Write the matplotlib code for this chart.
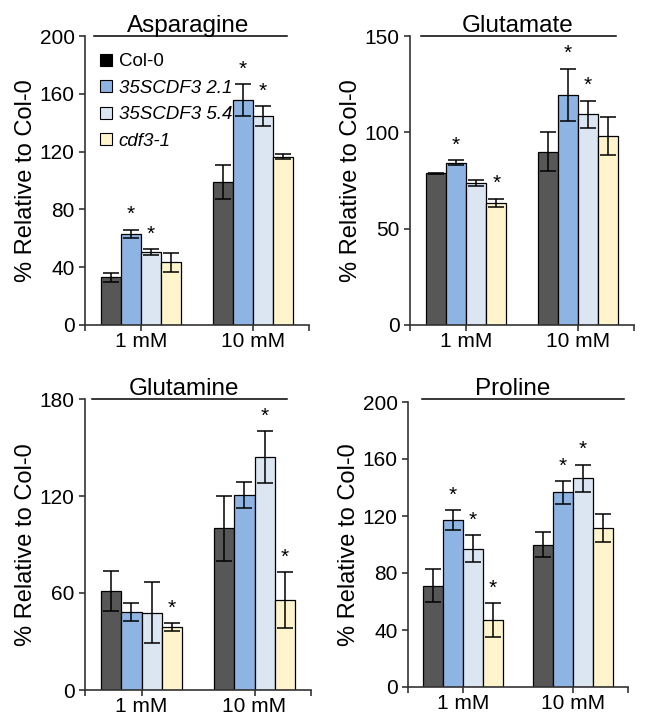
import numpy as np
import matplotlib.pyplot as plt
from matplotlib.lines import Line2D

plt.rcParams['font.family'] = ['Liberation Sans', 'DejaVu Sans']

# ---- data ----
groups = ['1 mM', '10 mM']
genotypes = ['Col-0', '35SCDF3 2.1', '35SCDF3 5.4', 'cdf3-1']
colors = ['#575757', '#8db4e2', '#dce6f2', '#fff4cc']

# each row = one genotype, columns = 1 mM, 10 mM
asn_mean = [[33, 99], [63, 155.5], [50.5, 144.5], [43.5, 116.5]]
asn_err = [[3, 12], [3, 11], [1.8, 7], [6.5, 1.5]]
asn_star = [[False, False], [True, True], [True, True], [False, False]]

glu_mean = [[78.7, 90], [84.2, 119.5], [73.8, 109.5], [63.5, 98]]
glu_err = [[0.4, 10.2], [1.2, 13.6], [1.5, 7], [2, 10]]
glu_star = [[False, False], [True, True], [False, True], [True, False]]

gln_mean = [[61, 100], [48.3, 120.6], [47.8, 144], [39, 55.7]]
gln_err = [[12.4, 20], [5.6, 8], [19, 16], [2.4, 17.3]]
gln_star = [[False, False], [False, False], [False, True], [True, True]]

pro_mean = [[71, 100], [117, 136.5], [97, 146.5], [47, 111.5]]
pro_err = [[11.7, 8.7], [7, 8], [9.4, 9.5], [11.7, 10]]
pro_star = [[False, False], [True, True], [True, True], [True, False]]

panels = [
    ('Asparagine', asn_mean, asn_err, asn_star, [0, 40, 80, 120, 160, 200]),
    ('Glutamate', glu_mean, glu_err, glu_star, [0, 50, 100, 150]),
    ('Glutamine', gln_mean, gln_err, gln_star, [0, 60, 120, 180]),
    ('Proline', pro_mean, pro_err, pro_star, [0, 40, 80, 120, 160, 200]),
]

# axes boxes in pixels: left, right, top, bottom ; title line span (axes frac) ; title x
W, H = 650, 726
boxes = [(85, 309, 36, 325), (410, 634, 36, 325), (85, 311, 399, 690), (408, 628, 402, 687)]
lines = [(0.04, 0.90), (0.05, 0.92), (0.03, 0.895), (0.064, 0.98)]
line_y = [1.0, 1.0, 1.0, 1.01]
title_x = [0.462, 0.48, 0.44, 0.478]

fig = plt.figure(figsize=(W / 100, H / 100), dpi=100)

width = 0.18
offsets = (np.arange(4) - 1.5) * width
x = np.arange(len(groups))

for k, (name, mean, err, star, yt) in enumerate(panels):
    l, r, t, b = boxes[k]
    ax = fig.add_axes([l / W, 1 - b / H, (r - l) / W, (b - t) / H])
    mean = np.array(mean)
    err = np.array(err)
    for i in range(4):
        ax.bar(x + offsets[i], mean[i], width, color=colors[i], edgecolor='black',
               linewidth=0.9, zorder=2)
        ax.errorbar(x + offsets[i], mean[i], yerr=err[i], fmt='none', ecolor='black',
                    elinewidth=1.1, capsize=6, capthick=1.1, zorder=3)
        for j in range(len(groups)):
            if star[i][j]:
                ax.annotate('*', (x[j] + offsets[i], mean[i][j] + err[i][j]),
                            xytext=(0, 4), textcoords='offset points',
                            ha='center', va='bottom', fontsize=15)
    ax.set_xlim(-0.5, 1.5)
    ax.set_ylim(yt[0], yt[-1])
    ax.set_yticks(yt)
    ax.set_xticks(x)
    ax.set_xticklabels(groups)
    ax.set_xticks([-0.5, 1.5], minor=True)
    for s in ['top', 'right']:
        ax.spines[s].set_visible(False)
    for s in ['left', 'bottom']:
        ax.spines[s].set_color('#333333')
        ax.spines[s].set_linewidth(1.2)
    ax.tick_params(axis='both', which='both', direction='out', length=4, width=1.2,
                   color='#333333', labelsize=15)
    ax.tick_params(axis='x', pad=1)
    ax.set_ylabel('% Relative to Col-0', fontsize=17, labelpad=2)
    ax.plot(lines[k], [line_y[k]] * 2, transform=ax.transAxes, color='black',
            linewidth=1.1, clip_on=False)
    ax.annotate(name, (title_x[k], line_y[k]), xycoords='axes fraction',
                xytext=(0, 3), textcoords='offset points',
                ha='center', va='baseline', fontsize=17.5)

    if k == 0:
        handles = [Line2D([], [], marker='s', linestyle='none', markersize=8,
                          markerfacecolor=('black' if i == 0 else colors[i]),
                          markeredgecolor='black', markeredgewidth=0.8)
                   for i in range(4)]
        leg = ax.legend(handles, genotypes, loc='upper left', bbox_to_anchor=(0.02, 0.98),
                        frameon=False, fontsize=13.5, handlelength=0.6, handletextpad=0.35,
                        labelspacing=0.5, borderaxespad=0.2)
        for i, txt in enumerate(leg.get_texts()):
            if i > 0:
                txt.set_style('italic')

fig.savefig('out.png', dpi=100)
